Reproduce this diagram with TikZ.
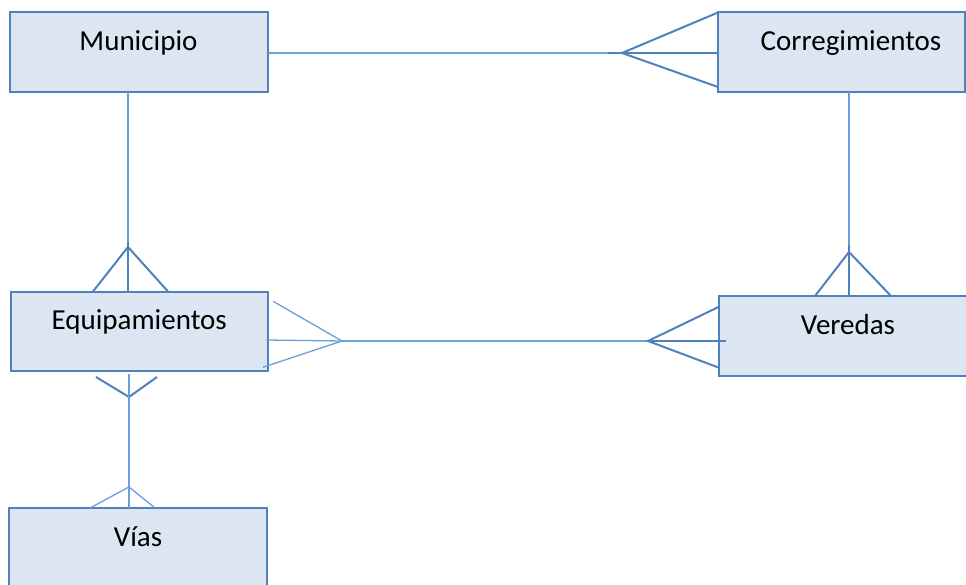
\documentclass[tikz,border=0pt]{standalone}
\usepackage{fontspec}
\setmainfont{Carlito}
\usetikzlibrary{calc}
\definecolor{boxfill}{HTML}{DCE6F2}
\definecolor{boxblue}{HTML}{4F81BD}
\definecolor{lineblue}{HTML}{6A9FDA}
\begin{document}
\begin{tikzpicture}[x=1pt,y=-1pt,
  entity/.style={draw=boxblue, line width=2pt, fill=boxfill, inner sep=0pt, outer sep=0pt,
    text height=38pt, text depth=41.5pt, anchor=north west, font=\fontsize{29}{34}\selectfont},
  dark/.style={draw=boxblue, line width=2pt},
  light/.style={draw=lineblue, line width=1.3pt}]
\useasboundingbox (0,0) rectangle (966,585);

% entities
\node[entity, minimum width=258pt] (mun) at (9.5,12.5) {Municipio};
\node[entity, minimum width=246.5pt] (cor) at (718,12.5) {\hspace*{19.5pt}Corregimientos};
\node[entity, minimum width=257.5pt] (equ) at (10.5,291.5) {Equipamientos};
\node[entity, minimum width=258pt] (ver) at (719,296) {Veredas};
\node[entity, minimum width=258pt] (via) at (9,508) {Vías};

% crow's foot apexes
\coordinate (a1) at (622,53);
\coordinate (a2) at (128,247);
\coordinate (a3) at (849,252);
\coordinate (a4) at (342,341);
\coordinate (a5) at (648,341);
\coordinate (a6) at (129,397);
\coordinate (a7) at (129,487);

% Municipio -- Corregimientos
\draw[light] (mun.east |- a1) -- ($(a1)+(-14,0)$);
\draw[dark] ($(a1)+(-14,0)$) -- (cor.west |- a1);
\draw[dark] (cor.north west) -- (a1) -- ($(cor.south west)+(0,-5)$);

% Municipio -- Equipamientos
\draw[light] (mun.south -| a2) -- ($(a2)+(0,-5)$);
\draw[dark] ($(a2)+(0,-5)$) -- (equ.north -| a2);
\draw[dark] ($(equ.north -| a2)+(-35,0)$) -- (a2) -- ($(equ.north -| a2)+(40,0)$);

% Corregimientos -- Veredas
\draw[light] (cor.south -| a3) -- ($(a3)+(0,-7)$);
\draw[dark] ($(a3)+(0,-7)$) -- (ver.north -| a3);
\draw[dark] ($(ver.north -| a3)+(-34,0)$) -- (a3) -- ($(ver.north -| a3)+(42,0)$);

% Equipamientos -- Veredas
\draw[light] (a4) -- (a5);
\draw[light] ($(equ.east)+(5,-30)$) -- (a4) -- ($(equ.east)+(-5,36)$);
\draw[light] ($(equ.east |- a4)+(-2,-1)$) -- (a4);
\draw[dark] (a5) -- ($(ver.west |- a5)+(7,0)$);
\draw[dark] ($(ver.west)+(0,-29)$) -- (a5) -- ($(ver.west)+(0,32)$);

% Equipamientos -- Vias
\draw[dark] ($(a6)+(-33,-20)$) -- (a6) -- ($(a6)+(28,-20)$);
\draw[light] ($(equ.south -| a6)+(0,3)$) -- (via.north -| a6);
\draw[light] ($(via.north -| a7)+(-39,0)$) -- (a7) -- ($(via.north -| a7)+(26,0)$);
\end{tikzpicture}
\end{document}
